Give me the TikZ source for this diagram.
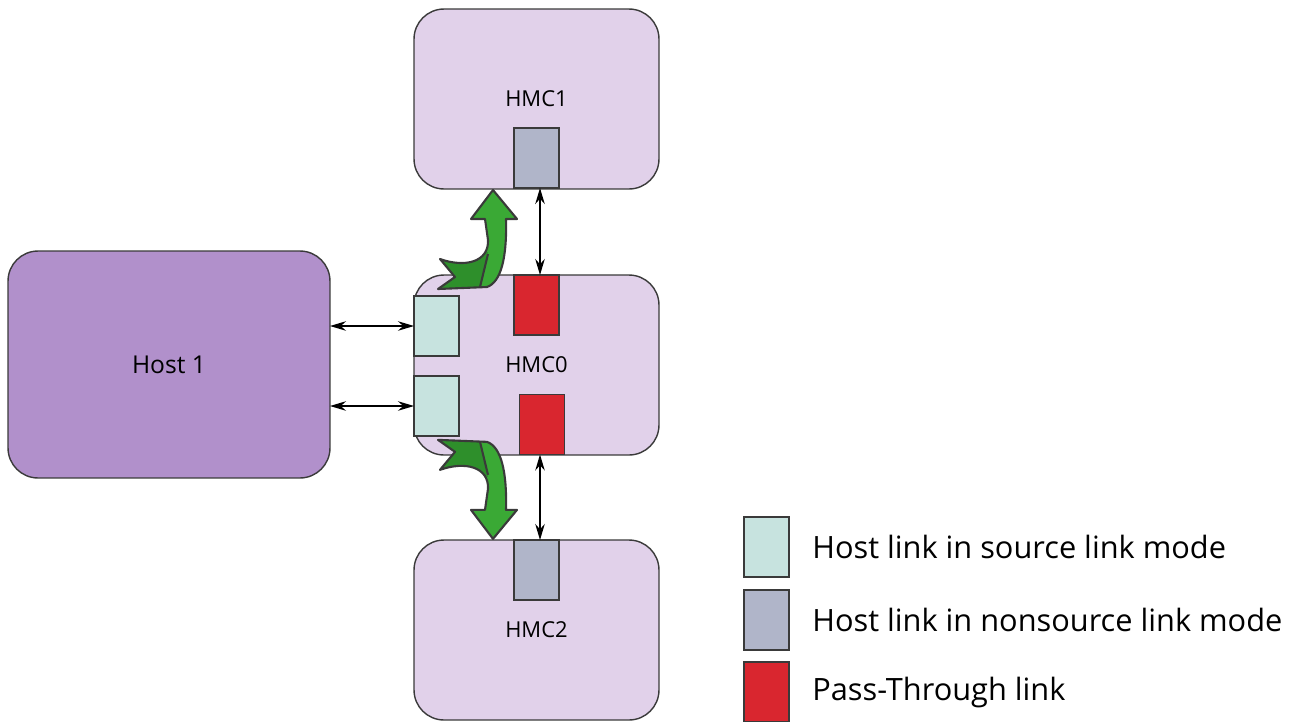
\documentclass[tikz,border=0pt]{standalone}
\usepackage{fontspec}
\setmainfont{Open Sans}
\usepackage{xcolor}
\usetikzlibrary{arrows.meta,positioning}

\definecolor{edge}{HTML}{3A3A3A}
\definecolor{hmcfill}{HTML}{E1D1EA}
\definecolor{hostfill}{HTML}{B190CB}
\definecolor{srcfill}{HTML}{C7E3DF}
\definecolor{nsfill}{HTML}{B0B5C9}
\definecolor{ptfill}{HTML}{D9262F}
\definecolor{greenlight}{HTML}{3AA935}
\definecolor{greendark}{HTML}{2E8F2B}

\newcommand{\bendpath}{(493,190) -- (517,219) -- (506,219)
  .. controls (507,258) and (501,282) .. (487,287) -- (438,289) -- (455,277) -- (440,259)
  .. controls (465,268) and (489,262) .. (488,240) -- (485,219) -- (471,219) -- cycle}
\newcommand{\bendarrow}{%
  \begin{scope}
    \clip \bendpath;
    \fill[greenlight] (420,180) rectangle (530,300);
    \fill[greendark] (488,252) -- (479,295) -- (425,295) -- (425,252) -- cycle;
  \end{scope}
  \draw[edge, line width=1.2pt, line join=round] \bendpath;
  \draw[edge, line width=1.2pt] (488,254) -- (480,287);}

\begin{document}
\begin{tikzpicture}[x=0.02cm, y=-0.02cm,
  box/.style={draw=edge, line width=0.8pt, rounded corners=0.6cm, inner sep=0pt, outer sep=0pt,
    minimum width=4.9cm, minimum height=3.6cm, fill=hmcfill, font=\fontsize{12.5}{15}\selectfont},
  port/.style={draw=edge, line width=0.8pt, inner sep=0pt, outer sep=0pt,
    minimum width=0.9cm, minimum height=1.2cm},
  link/.style={{Stealth[length=0.32cm,width=0.19cm]}-{Stealth[length=0.32cm,width=0.19cm]}, line width=0.8pt},
  legtext/.style={anchor=west, inner sep=0pt, font=\fontsize{17.5}{21}\selectfont}]
\useasboundingbox (0,0) rectangle (1294,721);

\node[box] (hmc1) at (536.5,99) {HMC1};
\node[box] (hmc0) at (536.5,365) {HMC0};
\node[box] (hmc2) at (536.5,630) {HMC2};
\node[box, fill=hostfill, minimum width=6.44cm, minimum height=4.54cm,
  font=\fontsize{14}{17}\selectfont] (host) at (169,364.5) {Host 1};

\node[port, fill=nsfill] (nsA) at (536.5,158) {};
\node[port, fill=ptfill] (ptA) at (536.5,305) {};
\node[port, fill=ptfill] (ptB) at (542,424.5) {};
\node[port, fill=srcfill] (srcA) at (436.5,326) {};
\node[port, fill=srcfill] (srcB) at (436.5,406) {};
\node[port, fill=nsfill] (nsB) at (536.5,570) {};
\coordinate (midx) at (540,0);

\draw[link] (host.east |- srcA.west) -- (srcA.west);
\draw[link] (host.east |- srcB.west) -- (srcB.west);
\draw[link] (ptA.north -| midx) -- (nsA.south -| midx);
\draw[link] (ptB.south -| midx) -- (nsB.north -| midx);

\bendarrow
\begin{scope}[yshift=-14.58cm, yscale=-1]
  \bendarrow
\end{scope}

\node[port, fill=srcfill] (leg1) at (766.5,547) {};
\node[port, fill=nsfill] (leg2) at (766.5,620) {};
\node[port, fill=ptfill] (leg3) at (766.5,692) {};
\node[legtext, right=0.46cm of leg1] (lab1) {Host link in source link mode};
\node[legtext, right=0.46cm of leg2] (lab2) {Host link in nonsource link mode};
\node[legtext, right=0.46cm of leg3] (lab3) {Pass-Through link};
\end{tikzpicture}
\end{document}
